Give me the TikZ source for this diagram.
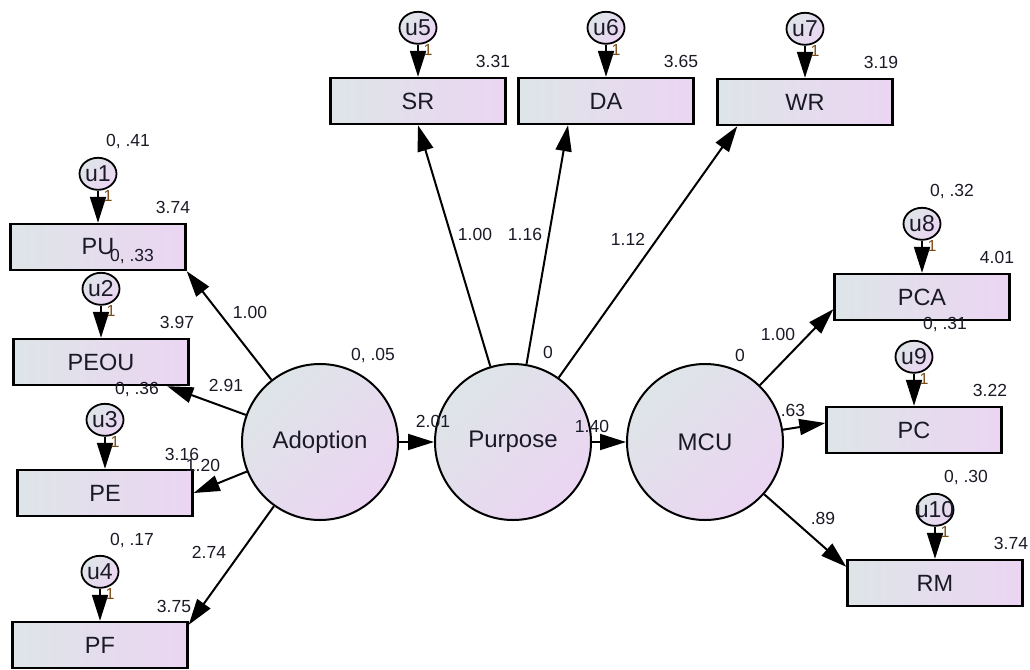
\documentclass[tikz,border=0pt]{standalone}
\usepackage{fontspec}
\setmainfont{Liberation Sans}
\usetikzlibrary{arrows.meta,calc,shapes.geometric}
\definecolor{boxL}{HTML}{DEE5E8}
\definecolor{boxR}{HTML}{EBD5F2}
\definecolor{txt}{HTML}{1A1A26}
\definecolor{onec}{HTML}{7A4A14}
\newcommand{\ulab}[1]{\makebox[0pt][c]{#1}}
\tikzset{
 obs/.style={draw=black, line width=2.4pt, left color=boxL, right color=boxR,
   minimum width=175pt, minimum height=46pt, inner sep=0pt,
   font=\fontsize{23.5}{25}\selectfont, text=txt},
 lat/.style={circle, draw=black, line width=2pt, top color=boxL, bottom color=boxR,
   shading angle=45, minimum size=156pt, inner sep=0pt,
   font=\fontsize{24}{25}\selectfont, text=txt},
 err/.style={ellipse, draw=black, line width=1.8pt, top color=boxL, bottom color=boxR,
   shading angle=45, minimum width=37pt, minimum height=32pt, inner sep=0pt,
   font=\fontsize{23}{24}\selectfont, text=txt},
 sem/.style={line width=2pt, -{Triangle[length=26pt,width=16pt]}},
 num/.style={font=\fontsize{17.5}{18}\selectfont, text=txt, inner sep=0pt},
 one/.style={font=\fontsize{16}{17}\selectfont, text=onec, inner sep=0pt},
}
\begin{document}
\begin{tikzpicture}[x=1pt,y=-1pt]
\useasboundingbox (0,0) rectangle (1030,669);
% observed variables
\node[obs] (PU) at (98,247) {PU};
\node[obs] (PEOU) at (101,362) {PEOU};
\node[obs] (PE) at (105,493) {PE};
\node[obs] (PF) at (100,645) {PF};
\node[obs] (SR) at (418,101) {SR};
\node[obs] (DA) at (606,101) {DA};
\node[obs] (WR) at (805,102) {WR};
\node[obs] (PCA) at (922,297) {PCA};
\node[obs] (PC) at (914,430) {PC};
\node[obs] (RM) at (935,583) {RM};
% latent variables
\node[lat] (Adoption) at (320,442) {Adoption};
\node[lat] (Purpose) at (513,442) {Purpose};
\node[lat] (MCU) at (705,442) {MCU};
% error terms
\node[err] (u1) at ([yshift=49pt]PU.north) {\ulab{u1}};
\node[err] (u2) at ([yshift=49pt]PEOU.north) {\ulab{u2}};
\node[err] (u3) at ([yshift=49pt]PE.north) {\ulab{u3}};
\node[err] (u4) at ([yshift=49pt]PF.north) {\ulab{u4}};
\node[err] (u5) at ([yshift=49pt]SR.north) {\ulab{u5}};
\node[err] (u6) at ([yshift=49pt]DA.north) {\ulab{u6}};
\node[err] (u7) at ([yshift=49pt]WR.north) {\ulab{u7}};
\node[err] (u8) at ([yshift=49pt]PCA.north) {\ulab{u8}};
\node[err] (u9) at ([yshift=49pt]PC.north) {\ulab{u9}};
\node[err] (u10) at ([yshift=49pt]RM.north) {\ulab{u10}};
% error arrows
\foreach \u/\b in {u1/PU,u2/PEOU,u3/PE,u4/PF,u5/SR,u6/DA,u7/WR,u8/PCA,u9/PC,u10/RM}{
  \draw[sem] (\u) -- (\b.north);
  \node[one] (one-\u) at ([xshift=10pt,yshift=-22pt]\u.center) {1};
}
% structural paths
\draw[sem] (Adoption) -- (PU.south east);
\draw[sem] (Adoption) -- (PEOU);
\draw[sem] (Adoption) -- (PE.east);
\draw[sem] (Adoption) -- ([yshift=-4pt]PF.north east);
\draw[sem] (Adoption) -- (Purpose);
\draw[sem] (Purpose) -- (SR.south);
\draw[sem] (Purpose) -- ([xshift=-38pt]DA.south);
\draw[sem] (Purpose) -- ([xshift=21pt]WR.south west);
\draw[sem] (Purpose) -- (MCU);
\draw[sem] (MCU) -- ([yshift=12pt]PCA.south west);
\draw[sem] (MCU) -- ([yshift=7pt]PC.west);
\draw[sem] (MCU) -- ([yshift=-8pt]RM.north west);
% variances / means of errors
\node[num] (v1) at (128,142) {0, .41};
\node[num] (v2) at (132,257) {0, .33};
\node[num] (v3) at (137,390) {0, .36};
\node[num] (v4) at (132,541) {0, .17};
\node[num] (v8) at (952,192) {0, .32};
\node[num] (v9) at (945,325) {0, .31};
\node[num] (v10) at (966,478) {0, .30};
% intercepts
\node[num] (i1) at (173,207) {3.74};
\node[num] (i2) at (177,322) {3.97};
\node[num] (i3) at (182,454) {3.16};
\node[num] (i4) at (174,606) {3.75};
\node[num] (i5) at (493,61) {3.31};
\node[num] (i6) at (681,61) {3.65};
\node[num] (i7) at (881,62) {3.19};
\node[num] (i8) at (997,257) {4.01};
\node[num] (i9) at (990,390) {3.22};
\node[num] (i10) at (1011,543) {3.74};
% path coefficients
\node[num] (p1) at (250,312) {1.00};
\node[num] (p2) at (226,385) {2.91};
\node[num] (p3) at (203,465) {1.20};
\node[num] (p4) at (209,552) {2.74};
\node[num] (p5) at (433,421) {2.01};
\node[num] (p6) at (475,234) {1.00};
\node[num] (p7) at (525,234) {1.16};
\node[num] (p8) at (628,239) {1.12};
\node[num] (p9) at (592,426) {1.40};
\node[num] (p10) at (778,334) {1.00};
\node[num] (p11) at (793,410) {.63};
\node[num] (p12) at (823,518) {.89};
% latent means / variances
\node[num] (m1) at (373,356) {0, .05};
\node[num] (m2) at (548,352) {0};
\node[num] (m3) at (740,355) {0};
\end{tikzpicture}
\end{document}
